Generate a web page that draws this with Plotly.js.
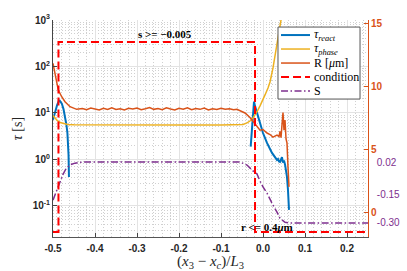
<!DOCTYPE html>
<html><head><meta charset="utf-8">
<script src="https://cdn.plot.ly/plotly-3.0.1.min.js"></script>
<style>html,body{margin:0;padding:0;background:#fff}#chart{width:407px;height:271px}</style>
</head><body><div id="chart"></div>
<script>
// ---- data ----
const reactX = [-0.5,-0.495,-0.490,-0.485,-0.479,-0.475,-0.4714,-0.468,-0.4657,-0.464,-0.463,-0.462,
  null,
  -0.0293,-0.0262,-0.0238,-0.0214,-0.019,-0.0143,-0.0071,0,0.0095,0.0214,0.0333,0.0357,0.0381,0.0405,0.0429,0.0452,0.0476,0.05,0.0524,0.0548,0.0571,0.0595,0.0619];
const reactY = [7.1,10.5,15,19,15.9,12.1,8.4,5.5,3.7,2.4,1.26,0.42,
  null,
  1.88,5.5,11,17.5,14,10,6.1,3.7,2.26,1.38,0.975,1.02,0.9,0.88,1.0,1.12,0.85,0.95,0.78,0.6,0.42,0.22,0.082];

const phaseX = [-0.5,-0.495,-0.490,-0.483,-0.475,-0.465,-0.45,-0.40,-0.30,-0.20,-0.10,-0.06,-0.0476,-0.0381,-0.031,-0.0238,-0.019,-0.0119,-0.0071,0,0.0048,0.0119,0.0167,0.0238,0.0286,0.0333,0.0381,0.0429,0.05,0.0619];
const phaseY = [8.8,7.7,6.9,6.2,5.85,5.65,5.55,5.5,5.5,5.5,5.52,5.55,5.66,6.1,6.7,7.8,9.06,11.6,14.2,19.1,24.4,34.5,46.4,93,160,290,552,1000,2000,5000];

const radiusX = [-0.5,-0.4968,-0.4929,-0.4874,-0.4793,-0.4714,-0.4595,-0.4436,
  -0.43,-0.42,-0.41,-0.40,-0.39,-0.38,-0.37,-0.36,-0.35,-0.34,-0.33,-0.32,-0.31,-0.30,-0.29,-0.28,-0.27,-0.26,-0.25,-0.24,-0.23,-0.22,-0.21,-0.20,-0.19,-0.18,-0.17,-0.16,-0.15,-0.14,-0.13,-0.12,-0.11,-0.10,-0.09,-0.08,-0.07,-0.062,
  -0.0548,-0.0429,-0.031,-0.0238,-0.019,-0.0143,-0.0071,0,0.0095,0.0167,0.0238,0.0333,0.0381,0.0405,0.0429,0.0452,0.0476,0.05,0.0524,0.0548,0.0571,0.0595,0.0619];
const radiusY = [11.8,11.27,10.48,9.68,9.15,8.75,8.36,8.15,
  8.22,8.12,8.25,8.18,8.1,8.24,8.15,8.28,8.14,8.2,8.1,8.23,8.17,8.26,8.12,8.2,8.3,8.15,8.22,8.13,8.27,8.18,8.1,8.24,8.16,8.28,8.12,8.22,8.15,8.25,8.1,8.2,8.14,8.23,8.16,8.2,8.12,8.15,
  8.05,7.86,7.5,7.2,7.0,6.75,6.5,6.55,6.27,6.15,5.95,6.1,6.0,6.4,5.9,6.9,7.9,6.5,7.3,5.8,5.5,3.6,2.0];

const condX = [-0.5,-0.487,-0.487,-0.019,-0.019,0.25];
const condY = [0,0,1,1,0,0];

const sX = [-0.5,-0.4952,-0.4905,-0.4833,-0.4762,-0.469,-0.4595,-0.4476,-0.4357,-0.4238,-0.0548,-0.0381,-0.0238,-0.0143,-0.0071,0,0.0095,0.0167,0.0238,0.0333,0.0405,0.0524,0.0643,0.25];
const sY = [-0.18,-0.15,-0.12,-0.085,-0.045,-0.015,0.005,0.014,0.018,0.02,0.02,0.004,-0.027,-0.043,-0.080,-0.111,-0.143,-0.179,-0.206,-0.243,-0.275,-0.296,-0.30,-0.30];

const seriesNames = ['<i>τ</i><sub><i>react</i></sub>','<i>τ</i><sub><i>phase</i></sub>','R [<i>μ</i>m]','condition','S'];

const xTickVals = [-0.5,-0.4,-0.3,-0.2,-0.1,0,0.1,0.2];
const xTickText = ['-0.5','-0.4','-0.3','-0.2','-0.1','0.0','0.1','0.2'];
const yTickVals = [0.1,1,10,100,1000];
const yTickText = ['10<sup>-1</sup>','10<sup>0</sup>','10<sup>1</sup>','10<sup>2</sup>','10<sup>3</sup>'];
const yMinorVals = [0.03,0.04,0.05,0.06,0.07,0.08,0.09,0.2,0.3,0.4,0.5,0.6,0.7,0.8,0.9,2,3,4,5,6,7,8,9,20,30,40,50,60,70,80,90,200,300,400,500,600,700,800,900];
const rTickVals = [0,5,10,15];
const rTickText = ['0','5','10','15'];
const sTickVals = [0.02,-0.15,-0.30];
const sTickText = ['0.02','-0.15','-0.30'];

// ---- styling ----
const BLUE='#0072BD', ORANGE='#D95319', YELLOW='#EDB120', PURPLE='#7E2F8E', RED='#FF0000';
const SANS='Liberation Sans, Arial, sans-serif';
const SERIF='Liberation Serif, Times New Roman, serif';
const tickFont = {family:SANS, size:10, color:'#262626', weight:'bold'};

const lineStyles = [
  {color:BLUE, width:2},
  {color:YELLOW, width:1.5},
  {color:ORANGE, width:1.5},
  {color:RED, width:2, dash:'8px,4px'},
  {color:PURPLE, width:1.5, dash:'7px,2.5px,1.5px,2.5px'}
];
const seriesX = [reactX, phaseX, radiusX, condX, sX];
const seriesY = [reactY, phaseY, radiusY, condY, sY];
const seriesAxis = ['y','y','y2','y4','y3'];

const data = seriesX.map((xs,i)=>({
  x:xs, y:seriesY[i], name:seriesNames[i], type:'scatter', mode:'lines',
  line:lineStyles[i], connectgaps:false, xaxis:'x', yaxis:seriesAxis[i], showlegend:false
}));

// legend box (drawn as a box in the corner, in the x / hidden-y4 frame)
const legX0=0.0357, legX1=0.2310, legYTop=1.0789, legYBot=0.700;
const legRowY=[1.0368,0.9632,0.8895,0.8158,0.7421];
const sampX0=0.0429, sampX1=0.1119, textX=0.1167;
const shapes=[{type:'rect', xref:'x', yref:'y4', x0:legX0, x1:legX1, y0:legYBot, y1:legYTop,
  fillcolor:'#fff', line:{color:'#555', width:1}, layer:'above'}];
const legendTexts=[];
seriesNames.forEach((nm,i)=>{
  shapes.push({type:'line', xref:'x', yref:'y4', x0:sampX0, x1:sampX1, y0:legRowY[i], y1:legRowY[i],
    line:{color:lineStyles[i].color, width:lineStyles[i].width, dash:lineStyles[i].dash||'solid'}, layer:'above'});
  legendTexts.push({text:nm, xref:'x', yref:'y4', x:textX, y:legRowY[i], xanchor:'left', yanchor:'middle',
    showarrow:false, font:{family:SERIF, size:12, color:'#000'}});
});

const L=53, R=5, T=20, B=34, W=407, H=271;
const plotRight = 368;
const paperW = W-L-R;
const xDomEnd = (plotRight-L)/paperW;

const layout = {
  width:W, height:H,
  margin:{l:L, r:R, t:T, b:B, pad:0},
  paper_bgcolor:'#fff', plot_bgcolor:'#fff',
  showlegend:false,
  xaxis:{domain:[0,xDomEnd], range:[-0.5,0.25], tickvals:xTickVals, ticktext:xTickText,
    ticks:'inside', ticklen:4, tickcolor:'#444', showline:true, linecolor:'#555', linewidth:1,
    showgrid:true, gridcolor:'#e3e3e3', gridwidth:1, zeroline:false, tickfont:tickFont, ticklabelstandoff:2,
    minor:{dtick:0.02, tick0:0, showgrid:true, gridcolor:'#d0d0d0', griddash:'1px,2px', ticks:''},
    title:{text:'(<i>x</i><sub>3</sub> − <i>x</i><sub><i>c</i></sub>)/<i>L</i><sub>3</sub>', font:{family:SERIF, size:15, color:'#262626'}, standoff:11}},
  yaxis:{type:'log', range:[-1.67,3], tickvals:yTickVals, ticktext:yTickText,
    ticks:'inside', ticklen:4, tickcolor:'#444', showline:true, linecolor:'#444', linewidth:1,
    showgrid:true, gridcolor:'#e3e3e3', zeroline:false, tickfont:tickFont,
    minor:{tickmode:'array', tickvals:yMinorVals, showgrid:true, gridcolor:'#d0d0d0', griddash:'1px,2px', ticks:''},
    title:{text:'<i>τ</i> [s]', font:{family:SERIF, size:14, color:'#262626'}, standoff:6}},
  yaxis2:{overlaying:'y', side:'right', anchor:'x', range:[-1.98,15.24], tickvals:rTickVals, ticktext:rTickText,
    ticks:'inside', ticklen:4, tickcolor:ORANGE, showline:true, linecolor:ORANGE, linewidth:1,
    showgrid:false, zeroline:false, tickfont:{family:SANS, size:10, color:ORANGE, weight:'bold'}},
  yaxis3:{overlaying:'y', side:'right', anchor:'free', position:0.925, range:[-0.3735,0.765],
    tickvals:sTickVals, ticktext:sTickText, ticks:'', showline:false, showgrid:false, zeroline:false,
    tickfont:{family:SANS, size:10, color:PURPLE}},
  yaxis4:{overlaying:'y', range:[-0.026,1.116], visible:false, showgrid:false, zeroline:false},
  shapes:shapes,
  annotations:[
    {text:'s &gt;= −0.005', xref:'x', yref:'y4', x:-0.233, y:1.042, showarrow:false,
      font:{family:SERIF, size:11, color:'#000', weight:'bold'}},
    {text:'r &lt;= 0.4<i>μ</i>m', xref:'x', yref:'y4', x:0.01, y:0.026, showarrow:false,
      font:{family:SERIF, size:11, color:'#000', weight:'bold'}}
  ].concat(legendTexts)
};

Plotly.newPlot('chart', data, layout, {displayModeBar:false, staticPlot:true});
</script></body></html>
